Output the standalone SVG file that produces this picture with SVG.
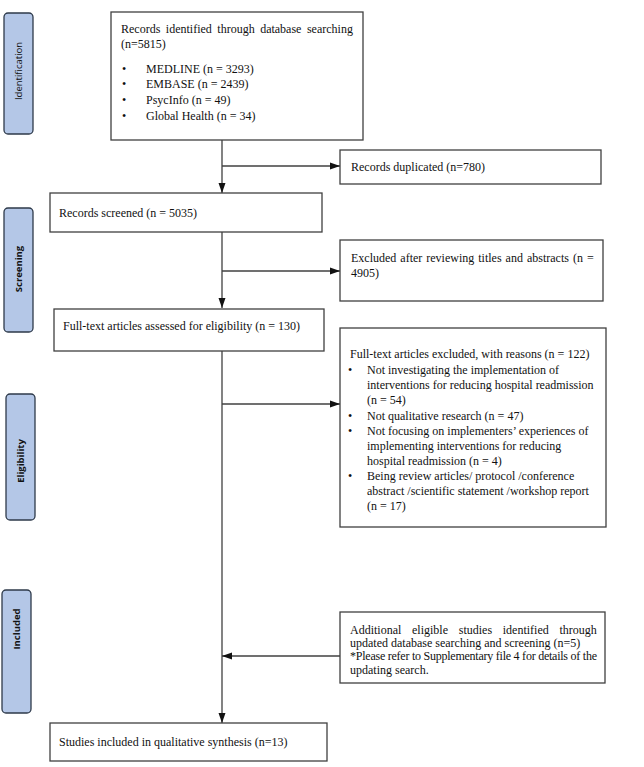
<svg xmlns="http://www.w3.org/2000/svg" width="644" height="767" viewBox="0 0 644 767">
<defs>
<style>
.box{fill:#fff;stroke:#404040;stroke-width:1.3}
.tab{fill:#b4c7e7;stroke:#2e3a4a;stroke-width:1.3}
.t{font-family:"Liberation Serif","Times New Roman",serif;font-size:12px;fill:#111}
.tt{font-family:"Open Sans","Liberation Sans",sans-serif;font-size:9.5px;fill:#111}
.b{font-weight:bold}
.ln{fill:none;stroke:#404040;stroke-width:1.3}
</style>
<marker id="ah" markerUnits="userSpaceOnUse" markerWidth="10" markerHeight="10" viewBox="0 0 10 10" refX="10" refY="5" orient="auto">
<path d="M0,1.5 L10,5 L0,8.5 Z" fill="#111"/>
</marker>
</defs>
<rect width="644" height="767" fill="#fff"/>

<g id="tab-identification">
<rect class="tab" x="4" y="13" width="29" height="121" rx="4"/>
<text class="tt" transform="translate(22,71) rotate(-90)" text-anchor="middle">Identification</text>
</g>
<g id="tab-screening">
<rect class="tab" x="4" y="208" width="29" height="124" rx="4"/>
<text class="tt b" transform="translate(22,269) rotate(-90)" text-anchor="middle">Screening</text>
</g>
<g id="tab-eligibility">
<rect class="tab" x="6" y="394" width="29" height="126" rx="4"/>
<text class="tt b" transform="translate(24,461) rotate(-90)" text-anchor="middle">Eligibility</text>
</g>
<g id="tab-included">
<rect class="tab" x="2" y="590" width="29" height="123" rx="4"/>
<text class="tt b" transform="translate(20,629) rotate(-90)" text-anchor="middle">Included</text>
</g>

<g id="connectors">
<path class="ln" d="M222,140 V193" marker-end="url(#ah)"/>
<path class="ln" d="M222,166 H340" marker-end="url(#ah)"/>
<path class="ln" d="M222,232 V308" marker-end="url(#ah)"/>
<path class="ln" d="M222,271 H340" marker-end="url(#ah)"/>
<path class="ln" d="M222,351 V723" marker-end="url(#ah)"/>
<path class="ln" d="M222,404 H340" marker-end="url(#ah)"/>
<path class="ln" d="M340,656 H222" marker-end="url(#ah)"/>
</g>

<g id="identified">
<rect class="box" x="111" y="12" width="252" height="128"/>
<text class="t" x="121" y="32.5" word-spacing="2.5">Records identified through database searching</text>
<text class="t" x="121" y="47.5">(n=5815)</text>
<text class="t" x="122" y="72.5">•</text><text class="t" x="146" y="72.5">MEDLINE (n = 3293)</text>
<text class="t" x="122" y="88">•</text><text class="t" x="146" y="88">EMBASE (n = 2439)</text>
<text class="t" x="122" y="104">•</text><text class="t" x="146" y="104">PsycInfo (n = 49)</text>
<text class="t" x="122" y="119.5">•</text><text class="t" x="146" y="119.5">Global Health (n = 34)</text>
</g>

<g id="duplicated">
<rect class="box" x="340" y="150" width="261" height="34"/>
<text class="t" x="351" y="171">Records duplicated (n=780)</text>
</g>

<g id="screened">
<rect class="box" x="50" y="193" width="272" height="39"/>
<text class="t" x="59" y="217">Records screened (n = 5035)</text>
</g>

<g id="excluded-titles">
<rect class="box" x="340" y="240" width="263" height="61"/>
<text class="t" x="351" y="261.5" word-spacing="1">Excluded after reviewing titles and abstracts (n =</text>
<text class="t" x="351" y="276.5">4905)</text>
</g>

<g id="fulltext">
<rect class="box" x="54" y="309" width="270" height="42"/>
<text class="t" x="63" y="330">Full-text articles assessed for eligibility (n = 130)</text>
</g>

<g id="fulltext-excluded">
<rect class="box" x="340" y="328" width="266" height="199"/>
<text class="t" x="350" y="357.5">Full-text articles excluded, with reasons (n = 122)</text>
<text class="t" x="348" y="374">•</text>
<text class="t" x="367" y="374">Not investigating the implementation of</text>
<text class="t" x="367" y="389">interventions for reducing hospital readmission</text>
<text class="t" x="367" y="404">(n = 54)</text>
<text class="t" x="348" y="420">•</text>
<text class="t" x="367" y="420">Not qualitative research (n = 47)</text>
<text class="t" x="348" y="435">•</text>
<text class="t" x="367" y="435">Not focusing on implementers’ experiences of</text>
<text class="t" x="367" y="450">implementing interventions for reducing</text>
<text class="t" x="367" y="465">hospital readmission (n = 4)</text>
<text class="t" x="348" y="480">•</text>
<text class="t" x="367" y="480">Being review articles/ protocol /conference</text>
<text class="t" x="367" y="495">abstract /scientific statement /workshop report</text>
<text class="t" x="367" y="510">(n = 17)</text>
</g>

<g id="additional">
<rect class="box" x="340" y="612" width="265" height="71"/>
<text class="t" x="350" y="634" word-spacing="7.7">Additional eligible studies identified through</text>
<text class="t" x="350" y="647">updated database searching and screening (n=5)</text>
<text class="t" x="350" y="660" font-size="10.5" textLength="247" lengthAdjust="spacing">*Please refer to Supplementary file 4 for details of the</text>
<text class="t" x="350" y="674" font-size="10.5">updating search.</text>
</g>

<g id="included-final">
<rect class="box" x="50" y="723" width="277" height="38"/>
<text class="t" x="59" y="746">Studies included in qualitative synthesis (n=13)</text>
</g>
</svg>
